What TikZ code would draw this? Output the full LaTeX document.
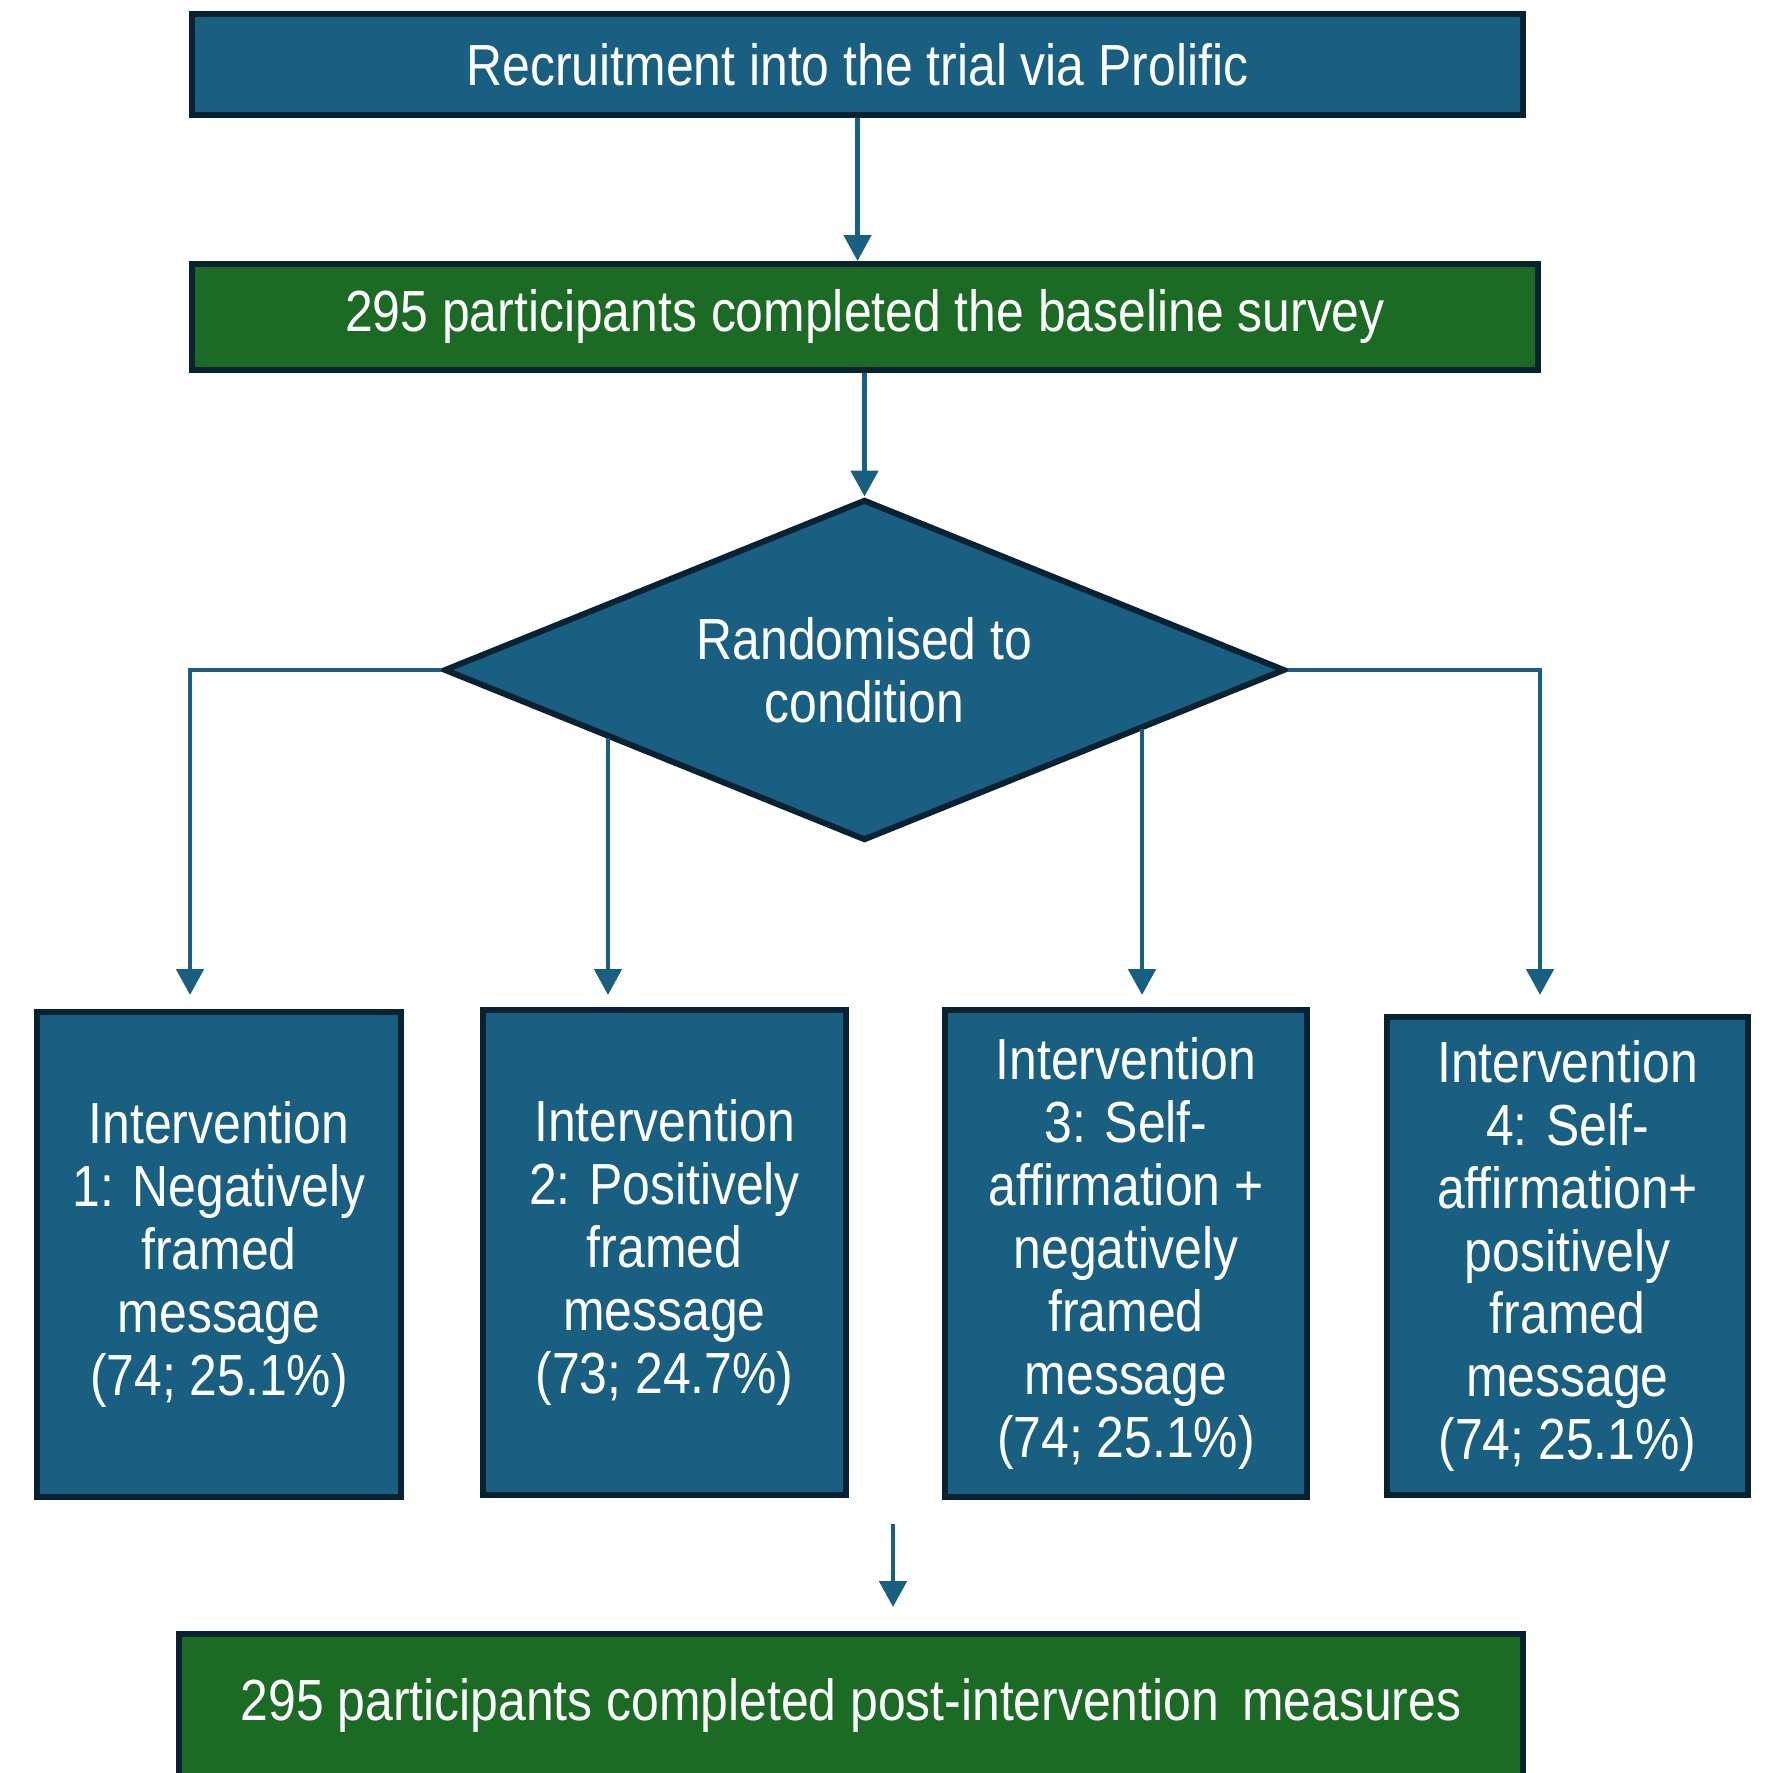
\documentclass[tikz,border=0pt]{standalone}
\usepackage{fontspec}
\setmainfont{Liberation Sans}[FakeStretch=0.86]
\usetikzlibrary{shapes.geometric,arrows.meta,calc}
\definecolor{trialblue}{RGB}{24,95,130}
\definecolor{trialgreen}{RGB}{27,107,36}
\definecolor{edgenavy}{RGB}{8,34,50}
\tikzstyle{bluebox}=[rectangle,draw=edgenavy,line width=1.7pt,fill=trialblue,text=white,align=center,inner sep=0pt,font=\fontsize{16.5}{17.9}\selectfont]
\tikzstyle{greenbox}=[bluebox,fill=trialgreen]
\tikzstyle{dec}=[diamond,draw=edgenavy,line width=1.7pt,fill=trialblue,text=white,align=center,inner sep=0pt,aspect=2.46,font=\fontsize{16.5}{17.9}\selectfont]
\tikzstyle{arr}=[-{Triangle[length=0.26cm,width=0.27cm]},draw=trialblue,line width=1.4pt]

\begin{document}
\begin{tikzpicture}
\useasboundingbox (0,0) rectangle (17.68,-17.73);
\node[bluebox,minimum width=13.31cm,minimum height=1.01cm] (recruit) at (8.575,-0.645) {Recruitment into the trial via Prolific};
\node[greenbox,minimum width=13.46cm,minimum height=1.06cm] (baseline) at (8.65,-3.17) {295 participants completed the baseline survey};
\node[dec,minimum width=8.41cm,minimum height=3.41cm] (rand) at (8.645,-6.70) {Randomised to\\condition};
\node[bluebox,minimum width=3.64cm,minimum height=4.85cm] (int1) at (2.19,-12.545) {Intervention\\1: Negatively\\framed\\message\\(74; 25.1\%)};
\node[bluebox,minimum width=3.63cm,minimum height=4.85cm] (int2) at (6.645,-12.525) {Intervention\\2: Positively\\framed\\message\\(73; 24.7\%)};
\node[bluebox,minimum width=3.62cm,minimum height=4.87cm] (int3) at (11.26,-12.535) {Intervention\\3: Self-\\affirmation +\\negatively\\framed\\message\\(74; 25.1\%)};
\node[bluebox,minimum width=3.61cm,minimum height=4.78cm] (int4) at (15.675,-12.56) {Intervention\\4: Self-\\affirmation+\\positively\\framed\\message\\(74; 25.1\%)};
\node[greenbox,minimum width=13.44cm,minimum height=1.42cm] (post) at (8.51,-17.05) {295 participants completed post-intervention\hspace{0.4em}measures};
% ends of the four branches and of the last arrow
\coordinate (t1) at (1.90,-9.95);
\coordinate (t2) at (6.08,-9.95);
\coordinate (t3) at (11.42,-9.95);
\coordinate (t4) at (15.40,-9.95);
\coordinate (s2) at ($(rand.west)!0.39!(rand.south)$);
\coordinate (s3) at ($(rand.east)!0.34!(rand.south)$);
\coordinate (m0) at (8.93,-15.24);
\coordinate (m1) at (8.93,-16.07);
\draw[arr] (recruit.south) -- (recruit.south |- baseline.north);
\draw[arr] (baseline.south -| rand.north) -- (rand.north);
\draw[arr] (rand.west) -| (t1);
\draw[arr] (s2 -| t2) -- (t2);
\draw[arr] (s3 -| t3) -- (t3);
\draw[arr] (rand.east) -| (t4);
\draw[arr] (m0) -- (m1);
\end{tikzpicture}
\end{document}
